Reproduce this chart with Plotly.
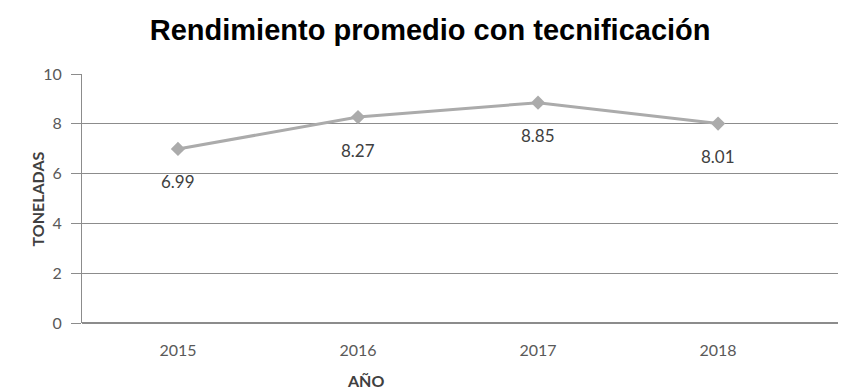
import plotly.graph_objects as go

years = ["2015", "2016", "2017", "2018"]
toneladas = [6.99, 8.27, 8.85, 8.01]
label_text = ["6.99", "8.27", "8.85", "8.01"]
y_ticks = [0, 2, 4, 6, 8, 10]


def main():
    idx = list(range(len(years)))
    fig = go.Figure()
    fig.add_trace(go.Scatter(
        x=idx, y=toneladas, mode="lines+markers",
        line=dict(color="#ababab", width=3),
        marker=dict(symbol="diamond", size=11, color="#ababab"),
        showlegend=False, hoverinfo="x+y"))

    for i, v, t in zip(idx, toneladas, label_text):
        fig.add_annotation(x=i, y=v, text=t, showarrow=False, yshift=-33,
                           font=dict(family="Lato, Open Sans, sans-serif", size=17, color="#404040"))

    # axis titles placed as annotations (Excel puts them tighter than plotly's standoff)
    fig.add_annotation(xref="paper", yref="paper", x=-0.057, y=0.5, text="<b>TONELADAS</b>",
                       textangle=-90, showarrow=False, xanchor="center", yanchor="middle",
                       font=dict(family="Lato, Open Sans, sans-serif", size=16, color="#404040"))
    fig.add_annotation(xref="paper", yref="paper", x=0.367, y=-0.229, text="<b>AÑO</b>",
                       showarrow=False, xanchor="center", yanchor="middle",
                       font=dict(family="Lato, Open Sans, sans-serif", size=16, color="#404040"))

    fig.update_layout(
        width=846, height=390,
        margin=dict(l=74, r=0, t=66, b=75),
        paper_bgcolor="white", plot_bgcolor="white",
        title=dict(text="<b>Rendimiento promedio con tecnificación</b>",
                   x=0.499, xanchor="center", y=0.944, yanchor="middle",
                   font=dict(family="Liberation Sans, Arial, sans-serif", size=29, color="black")),
        font=dict(family="Lato, Open Sans, sans-serif", size=15, color="#595959"),
    )
    fig.update_xaxes(
        range=[-0.533, 3.755], tickvals=idx, ticktext=years, automargin=False,
        showgrid=False, zeroline=False, showline=False, ticks="",
        ticklabelstandoff=16,
        tickfont=dict(size=16, color="#595959"),
    )
    fig.update_yaxes(
        range=[0, 10], tickvals=y_ticks, automargin=False,
        showgrid=True, gridcolor="#8c8c8c", gridwidth=1,
        zeroline=True, zerolinecolor="#8c8c8c", zerolinewidth=1.5,
        showline=True, linecolor="#8c8c8c", linewidth=1,
        ticks="outside", ticklen=10, tickcolor="#8c8c8c",
        ticklabelstandoff=6,
        tickfont=dict(size=16, color="#595959"),
    )
    fig.write_html("out.html")


if __name__ == "__main__":
    main()
